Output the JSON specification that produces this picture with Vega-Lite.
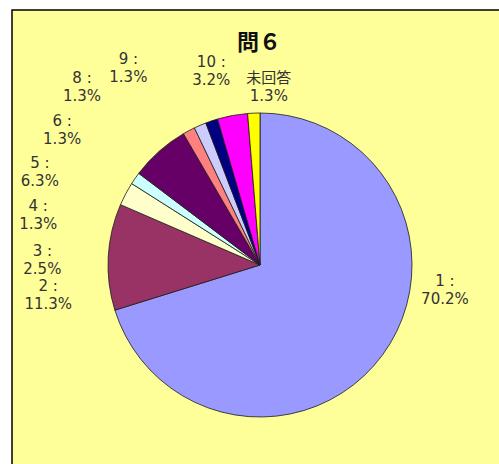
{
  "$schema": "https://vega.github.io/schema/vega-lite/v6.json",
  "autosize": "none",
  "width": 496,
  "height": 510,
  "padding": {"left": 12, "top": 10, "right": -9, "bottom": -56},
  "background": "white",
  "view": {"fill": "#FFFF99", "stroke": "#000000", "strokeWidth": 1.5},
  "config": {
    "view": {"fill": "#FFFF99", "stroke": "#000000", "strokeWidth": 1.5},
    "text": {"font": "DejaVu Sans", "fontSize": 15, "color": "#333333", "lineBreak": "\n", "lineHeight": 18, "align": "center", "baseline": "middle", "radius": 175}
  },
  "title": {"text": "問６", "font": "Noto Sans CJK JP", "fontSize": 22, "fontWeight": "bold", "color": "#111111", "offset": -50, "dy": 10, "dx": -1},
  "data": {
    "values": [
      {"idx": 1, "cat": "1", "value": 70.2, "label": "1 :\n70.2%"},
      {"idx": 2, "cat": "2", "value": 11.3, "label": "2 :\n11.3%"},
      {"idx": 3, "cat": "3", "value": 2.5, "label": "3 :\n2.5%"},
      {"idx": 4, "cat": "4", "value": 1.3, "label": "4 :\n1.3%"},
      {"idx": 5, "cat": "5", "value": 6.3, "label": "5 :\n6.3%"},
      {"idx": 6, "cat": "6", "value": 1.3, "label": "6 :\n1.3%"},
      {"idx": 7, "cat": "8", "value": 1.3, "label": "8 :\n1.3%"},
      {"idx": 8, "cat": "9", "value": 1.3, "label": "9 :\n1.3%"},
      {"idx": 9, "cat": "10", "value": 3.2, "label": "10 :\n3.2%"},
      {"idx": 10, "cat": "未回答", "value": 1.3, "label": "未回答\n1.3%"}
    ]
  },
  "encoding": {
    "theta": {"field": "value", "type": "quantitative", "stack": true},
    "order": {"field": "idx", "type": "quantitative"},
    "detail": {"field": "cat", "type": "nominal"}
  },
  "layer": [
    {
      "mark": {"type": "arc", "outerRadius": 152, "stroke": "#1a1a1a", "strokeWidth": 0.8},
      "encoding": {
        "color": {
          "field": "cat", "type": "nominal", "legend": null,
          "scale": {
            "domain": ["1", "2", "3", "4", "5", "6", "8", "9", "10", "未回答"],
            "range": ["#9999FF", "#993366", "#FFFFCC", "#CCFFFF", "#660066", "#FF8080", "#CCCCFF", "#000080", "#FF00FF", "#FFFF00"]
          }
        }
      }
    },
    {"mark": {"type": "text", "dx": 44, "dy": -88}, "encoding": {"text": {"condition": {"test": "datum.cat === '1'", "field": "label"}, "value": ""}}},
    {"mark": {"type": "text", "dx": -37, "dy": 30}, "encoding": {"text": {"condition": {"test": "datum.cat === '2'", "field": "label"}, "value": ""}}},
    {"mark": {"type": "text", "dx": -63, "dy": 68}, "encoding": {"text": {"condition": {"test": "datum.cat === '3'", "field": "label"}, "value": ""}}},
    {"mark": {"type": "text", "dx": -78, "dy": 41}, "encoding": {"text": {"condition": {"test": "datum.cat === '4'", "field": "label"}, "value": ""}}},
    {"mark": {"type": "text", "dx": -104, "dy": 29}, "encoding": {"text": {"condition": {"test": "datum.cat === '5'", "field": "label"}, "value": ""}}},
    {"mark": {"type": "text", "dx": -116, "dy": 11}, "encoding": {"text": {"condition": {"test": "datum.cat === '6'", "field": "label"}, "value": ""}}},
    {"mark": {"type": "text", "dx": -109, "dy": -26}, "encoding": {"text": {"condition": {"test": "datum.cat === '8'", "field": "label"}, "value": ""}}},
    {"mark": {"type": "text", "dx": -76, "dy": -40}, "encoding": {"text": {"condition": {"test": "datum.cat === '9'", "field": "label"}, "value": ""}}},
    {"mark": {"type": "text", "dx": -17, "dy": -31}, "encoding": {"text": {"condition": {"test": "datum.cat === '10'", "field": "label"}, "value": ""}}},
    {"mark": {"type": "text", "dx": 16, "dy": -12, "font": "DejaVu Sans, Noto Sans CJK JP"}, "encoding": {"text": {"condition": {"test": "datum.cat === '未回答'", "field": "label"}, "value": ""}}}
  ]
}
